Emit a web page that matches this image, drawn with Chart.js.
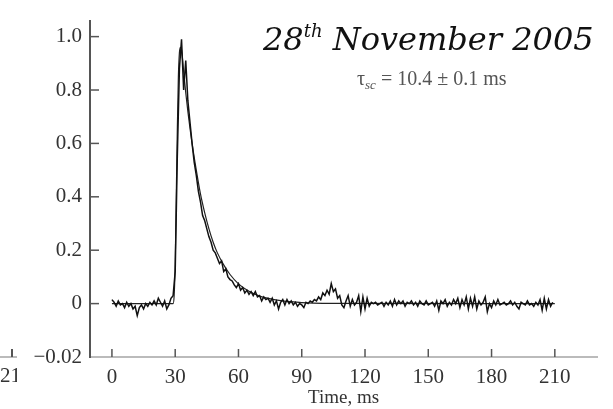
<!DOCTYPE html>
<html>
<head>
<meta charset="utf-8">
<script src="https://cdn.jsdelivr.net/npm/chart.js@4.4.0/dist/chart.umd.min.js"></script>
<style>
  body { margin: 0; background: #fff; }
  #quadro { position: relative; width: 613px; height: 409px; overflow: hidden; }
  #titulo { position: absolute; left: 263px; top: 23px; font: italic 32px/32px "DejaVu Serif"; color: #111; white-space: nowrap; }
  #titulo sup { font-size: 18px; line-height: 0; vertical-align: 13px; }
  #tau { position: absolute; left: 357px; top: 68px; font: 20px/20px "Liberation Serif"; color: #555; white-space: nowrap; }
  #tau sub { font-size: 13px; font-style: italic; line-height: 0; vertical-align: -4px; }
  #resto { position: absolute; left: 0; top: 365px; width: 17px; overflow: hidden; font: 21px/21px "Liberation Serif"; color: #333; white-space: nowrap; }
  #resto-eixo { position: absolute; left: 0; top: 356px; width: 17px; height: 2px; background: #bbb; }
  #resto-tick { position: absolute; left: 11px; top: 349px; width: 2px; height: 8px; background: #555; }
</style>
</head>
<body>
<div id="quadro">
  <canvas id="grafico" width="613" height="409"></canvas>
  <div id="titulo">28<sup>th</sup> November 2005</div>
  <div id="tau">τ<sub>sc</sub> = 10.4 ± 0.1 ms</div>
  <div id="resto-eixo"></div>
  <div id="resto-tick"></div>
  <div id="resto">210</div>
</div>
<script>
// sinal medido, uma amostra por ms a partir de t = 0
const tempoInicio = 0;
const passo = 1;
const sinal = [
  0.015, 0.005, -0.01, 0.01, -0.005, 0.0, -0.015, 0.005, -0.01, 0.0,
  -0.02, -0.01, -0.045, -0.015, -0.005, -0.02, 0.0, -0.01, 0.005, -0.005,
  0.01, -0.005, 0.02, 0.005, -0.01, 0.01, -0.02, -0.005, 0.02, 0.03,
  0.12, 0.55, 0.88, 0.99, 0.80, 0.91, 0.76, 0.68, 0.60, 0.53,
  0.48, 0.42, 0.38, 0.33, 0.31, 0.28, 0.25, 0.23, 0.20, 0.19,
  0.17, 0.15, 0.16, 0.12, 0.13, 0.10, 0.09, 0.085, 0.07, 0.06,
  0.075, 0.05, 0.06, 0.04, 0.05, 0.035, 0.045, 0.03, 0.045, 0.025,
  0.03, 0.01, 0.025, 0.015, 0.02, 0.005, 0.02, -0.005, 0.01, -0.02,
  0.005, 0.015, -0.005, 0.015, 0.0, 0.01, -0.005, 0.005, -0.01, 0.0,
  -0.005, -0.015, 0.005, 0.0, 0.01, 0.005, 0.015, 0.01, 0.025, 0.015,
  0.04, 0.03, 0.05, 0.035, 0.075, 0.045, 0.055, 0.02, 0.03, -0.005,
  -0.015, 0.01, 0.03, -0.01, 0.015, -0.005, 0.005, 0.03, -0.03, 0.025,
  -0.02, 0.02, -0.01, 0.005, 0.0, 0.005, -0.005, 0.0, 0.005, -0.01,
  0.005, -0.005, 0.01, -0.01, 0.015, -0.005, 0.01, 0.0, 0.01, -0.01,
  0.005, 0.0, 0.01, -0.005, 0.005, -0.01, 0.01, 0.0, -0.005, 0.01,
  -0.005, 0.0, 0.005, -0.01, 0.01, -0.025, 0.01, 0.0, 0.015, -0.01,
  0.005, -0.005, 0.015, 0.0, 0.02, -0.015, 0.015, -0.005, 0.025, -0.02,
  0.02, -0.01, 0.025, -0.02, 0.01, -0.005, 0.005, 0.025, -0.03, 0.0,
  -0.015, 0.01, -0.005, 0.015, -0.005, 0.0, 0.005, -0.005, 0.0, 0.01,
  -0.005, 0.005, -0.01, -0.02, 0.005, 0.0, -0.005, 0.01, -0.005, 0.0,
  -0.01, 0.005, -0.005, 0.015, -0.025, 0.02, -0.02, 0.015, -0.01, 0.005
];

// curva de ajuste
const ajusteTempo = [0, 29, 29.5, 30, 30.5, 31, 31.5, 32, 32.5, 33, 34, 35, 36, 38, 40, 42, 44, 46, 48, 50, 53, 56, 60, 65, 70, 80, 90, 100, 210];
const ajusteValor = [0, 0, 0.03, 0.15, 0.4, 0.65, 0.85, 0.94, 0.96, 0.95, 0.87, 0.79, 0.72, 0.6, 0.5, 0.41, 0.34, 0.28, 0.23, 0.19, 0.145, 0.109, 0.074, 0.046, 0.028, 0.011, 0.004, 0.001, 0];

const xTicks = [0, 30, 60, 90, 120, 150, 180, 210];
const yTicks = [-0.2, 0, 0.2, 0.4, 0.6, 0.8, 1.0];
const yTickLabels = ['\u22120.02', '0', '0.2', '0.4', '0.6', '0.8', '1.0'];
const tituloX = 'Time, ms';

let pontosSinal = [];
for (let i = 0; i < sinal.length; i++) {
  pontosSinal.push({ x: tempoInicio + i * passo, y: sinal[i] });
}
let pontosAjuste = [];
for (let i = 0; i < ajusteTempo.length; i++) {
  pontosAjuste.push({ x: ajusteTempo[i], y: ajusteValor[i] });
}

// ticks desenhados para dentro da area do grafico
const ticksParaDentro = {
  id: 'ticksParaDentro',
  afterDraw(chart) {
    const ctx = chart.ctx;
    const x = chart.scales.x;
    const y = chart.scales.y;
    ctx.save();
    ctx.strokeStyle = '#555';
    ctx.lineWidth = 1.5;
    x.ticks.forEach(function (t) {
      const px = x.getPixelForValue(t.value);
      ctx.beginPath();
      ctx.moveTo(px, x.top);
      ctx.lineTo(px, x.top - 8);
      ctx.stroke();
    });
    y.ticks.forEach(function (t) {
      if (t.value <= -0.2) return;
      const py = y.getPixelForValue(t.value);
      ctx.beginPath();
      ctx.moveTo(y.right, py);
      ctx.lineTo(y.right + 9, py);
      ctx.stroke();
    });
    ctx.restore();
  }
};

const fonteTicks = { family: 'Liberation Serif', size: 21 };

const config = {
  type: 'line',
  data: {
    datasets: [
      {
        label: 'sinal',
        data: pontosSinal,
        borderColor: '#111',
        borderWidth: 1.5,
        pointRadius: 0,
        tension: 0,
        fill: false
      },
      {
        label: 'ajuste',
        data: pontosAjuste,
        borderColor: '#222',
        borderWidth: 1.2,
        pointRadius: 0,
        cubicInterpolationMode: 'monotone',
        fill: false
      }
    ]
  },
  options: {
    responsive: false,
    animation: false,
    layout: { padding: { top: 18, right: 16, left: 0, bottom: 0 } },
    plugins: { legend: { display: false }, tooltip: { enabled: false } },
    scales: {
      x: {
        type: 'linear',
        min: -10.4,
        max: 230,
        grid: { display: false, drawTicks: false },
        border: { display: true, color: '#bbb', width: 2 },
        afterBuildTicks: function (scale) { scale.ticks = xTicks.map(v => ({ value: v })); },
        afterFit: function (scale) { scale.height = 52; },
        ticks: { color: '#333', font: fonteTicks, padding: 8, maxRotation: 0, autoSkip: false },
        title: { display: true, text: tituloX, color: '#333', font: { family: 'Liberation Serif', size: 19 }, padding: 0 }
      },
      y: {
        type: 'linear',
        min: -0.2,
        max: 1.06,
        grid: { display: false, drawTicks: false },
        border: { display: true, color: '#555', width: 2 },
        afterBuildTicks: function (scale) { scale.ticks = yTicks.map(v => ({ value: v })); },
        afterFit: function (scale) { scale.width = 90; },
        ticks: {
          color: '#333',
          font: fonteTicks,
          padding: 8,
          autoSkip: false,
          callback: function (value, index) { return yTickLabels[index]; }
        }
      }
    }
  },
  plugins: [ticksParaDentro]
};

let meuGrafico = new Chart(document.getElementById('grafico'), config);
</script>
</body>
</html>
